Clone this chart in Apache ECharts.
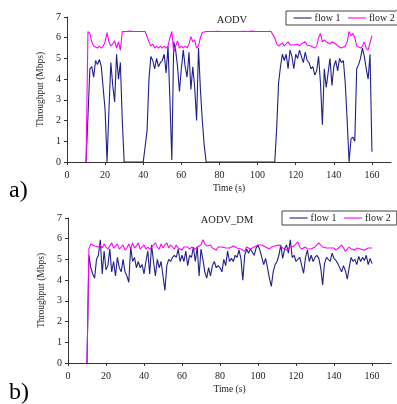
<!DOCTYPE html>
<html>
<head>
<meta charset="utf-8">
<script src="https://cdn.jsdelivr.net/npm/echarts@6/dist/echarts.min.js"></script>
<style>
html,body{margin:0;padding:0;background:#fff;}
#chart{width:397px;height:404px;}
</style>
</head>
<body>
<div id="chart"></div>
<script>
// time stamps (s), one sample per second from 10 to 160
var times = [];
for (var t = 10; t <= 160; t++) times.push(t);

var xTicks = [0, 20, 40, 60, 80, 100, 120, 140, 160];
var yTicks = [0, 1, 2, 3, 4, 5, 6, 7];
var seriesNames = ['flow 1', 'flow 2'];
var panelTitles = ['AODV', 'AODV_DM'];
var panelLabels = ['a)', 'b)'];

// (a) AODV
var aodvFlow1 = [
  0, 2.2, 4.5, 4.6, 4.1, 4.9, 4.7, 4.95, 4.6, 4.6,
  2.5, 0, 2.5, 4.8, 3.7, 2.9, 5.2, 4.0, 4.8, 2.0,
  0, 0, 0, 0, 0, 0, 0, 0, 0, 0,
  0, 0, 1.5, 4.0, 5.1, 4.9, 4.5, 5.0, 4.6, 4.8,
  4.9, 5.2, 4.3, 5.6, 3.0, 0.1, 5.8, 5.4, 4.6, 3.4,
  4.5, 5.4, 4.6, 4.1, 5.3, 3.5, 4.6, 3.6, 2.0, 5.5,
  3.5, 2.0, 0.8, 0, 0, 0, 0, 0, 0, 0,
  0, 0, 0, 0, 0, 0, 0, 0, 0, 0,
  0, 0, 0, 0, 0, 0, 0, 0, 0, 0,
  0, 0, 0, 0, 0, 0, 0, 0, 0, 0,
  1.6, 3.8, 4.6, 5.2, 4.9, 5.2, 4.5, 5.4, 5.1, 4.5,
  5.2, 5.0, 5.4, 5.1, 4.8, 5.3, 4.9, 4.8, 4.5, 4.6,
  4.2, 4.4, 5.1, 3.8, 1.8, 4.5, 3.6, 4.3, 5.0, 3.7,
  4.6, 4.9, 4.4, 5.0, 4.8, 4.9, 3.8, 2.0, 0, 1.1,
  1.2, 1.0, 4.5, 4.7, 5.0, 5.5, 5.1, 4.5, 4.0, 5.2,
  0.5
];
var aodvFlow2 = [
  0, 6.3, 6.2, 5.8, 5.6, 5.6, 5.5, 5.6, 5.5, 5.6,
  5.8, 6.25, 5.8, 5.6, 5.7, 5.85, 5.5, 5.8, 5.4, 6.3,
  6.28, 6.3, 6.3, 6.32, 6.3, 6.3, 6.31, 6.3, 6.32, 6.3,
  6.33, 6.3, 6.3, 5.8, 5.6, 5.7, 5.5, 5.6, 5.5, 5.6,
  5.5, 5.6, 5.5, 5.6, 6.0, 6.3, 5.3, 5.6, 5.85, 5.5,
  5.6, 5.5, 5.6, 5.5, 5.7, 6.05, 5.8, 5.9, 5.5, 5.6,
  6.0, 6.25, 6.3, 6.3, 6.31, 6.3, 6.29, 6.3, 6.3, 6.31,
  6.3, 6.3, 6.32, 6.3, 6.3, 6.3, 6.31, 6.3, 6.3, 6.3,
  6.32, 6.3, 6.3, 6.31, 6.3, 6.3, 6.3, 6.32, 6.3, 6.3,
  6.31, 6.3, 6.3, 6.3, 6.32, 6.3, 6.3, 6.31, 6.3, 6.0,
  5.7, 5.6, 5.6, 5.75, 5.6, 5.6, 5.8, 5.65, 5.7, 5.65,
  5.6, 5.7, 5.6, 5.7, 5.7, 5.8, 5.65, 5.7, 5.6, 5.6,
  5.5, 5.6, 6.0, 6.2, 5.8, 5.9, 5.8, 5.75, 5.7, 5.8,
  5.75, 5.7, 5.6, 5.65, 5.5, 5.5, 5.6, 5.8, 6.3, 6.1,
  6.2, 6.0, 5.6, 5.6, 5.5, 5.6, 5.8, 5.5, 5.4, 5.4,
  6.1
];

// (b) AODV_DM
var dmFlow1 = [
  0, 5.2, 4.6, 4.3, 4.1, 5.0, 5.2, 5.95, 4.3, 5.4,
  4.5, 4.7, 5.5, 4.4, 4.9, 4.2, 5.1, 4.6, 4.4, 5.0,
  4.4, 4.2, 3.9, 5.6, 4.9, 5.1, 4.6, 4.9, 4.6, 4.75,
  4.3, 4.9, 5.4, 4.3, 5.7, 4.9, 4.2, 5.0, 4.6, 4.9,
  4.2, 3.5, 4.7, 5.0, 4.9, 5.1, 5.2, 5.1, 5.5, 4.9,
  5.2, 4.9, 5.4, 4.7, 5.2, 5.1, 5.6, 4.9, 5.6, 4.2,
  5.5, 5.0, 4.4, 4.1, 4.6, 4.2, 4.7, 4.9, 4.6, 4.7,
  4.6, 4.4, 5.0, 4.7, 5.4, 4.9, 5.05, 4.9, 5.2, 5.1,
  5.45, 5.05, 4.0, 5.2, 5.5, 5.3, 5.5, 5.45, 5.2, 5.55,
  5.7, 5.45, 5.5, 4.75, 5.05, 4.6, 4.1, 3.7, 4.4, 4.75,
  4.9, 5.2, 5.7, 5.05, 5.5, 5.7, 5.3, 5.95, 5.1, 5.2,
  4.9, 4.9, 5.1, 4.7, 4.33, 5.1, 5.45, 4.9, 5.2, 4.9,
  5.1, 5.2, 5.05, 4.6, 3.77, 4.8, 5.1, 5.05, 4.9, 5.3,
  5.05, 4.95, 4.8, 4.85, 4.4, 4.7, 4.45, 4.05, 4.6, 5.1,
  4.9, 5.0, 4.75, 5.15, 4.9, 5.1, 4.95, 5.2, 4.75, 5.05,
  4.8
];
var dmFlow2 = [
  0, 5.5, 5.75, 5.8, 5.65, 5.7, 5.6, 5.7, 5.55, 5.75,
  5.6, 5.5, 5.65, 5.8, 5.55, 5.6, 5.75, 5.5, 5.6, 5.7,
  5.45, 5.55, 5.75, 5.5, 5.8, 5.55, 5.65, 5.8, 5.5, 5.6,
  5.7, 5.5, 5.6, 5.5, 5.6, 5.65, 5.8, 5.6, 5.5, 5.75,
  5.55, 5.7, 5.8, 5.55, 5.7, 5.6, 5.5, 5.7, 5.55, 5.6,
  5.45, 5.6, 5.55, 5.6, 5.5, 5.6, 5.55, 5.5, 5.6, 5.65,
  5.7, 5.95, 5.75, 5.65, 5.6, 5.7, 5.55, 5.6, 5.45, 5.6,
  5.65, 5.6, 5.65, 5.55, 5.5, 5.55, 5.6, 5.65, 5.6, 5.55,
  5.6, 5.5, 5.55, 5.4, 5.6, 5.55, 5.5, 5.55, 5.6, 5.55,
  5.7, 5.65, 5.7, 5.75, 5.6, 5.55, 5.5, 5.6, 5.55, 5.65,
  5.6, 5.7, 5.75, 5.55, 5.6, 5.45, 5.4, 5.6, 5.55, 5.65,
  5.75, 5.85, 5.6, 5.5, 5.45, 5.6, 5.5, 5.55, 5.5, 5.55,
  5.6, 5.7, 5.8, 5.85, 5.6, 5.55, 5.55, 5.5, 5.55, 5.5,
  5.55, 5.45, 5.5, 5.6, 5.7, 5.55, 5.4, 5.5, 5.6, 5.5,
  5.55, 5.45, 5.55, 5.5, 5.5, 5.5, 5.45, 5.5, 5.55, 5.5,
  5.55
];

function pairs(vals) { return times.map(function (t, i) { return [t, vals[i]]; }); }

var FONT = '"Liberation Serif", "Times New Roman", serif';
var TXT = '#222';
var C1 = '#1f1f8c';
var C2 = '#ff00ff';

function xAxisCfg(gi) {
  return {
    gridIndex: gi, type: 'value', min: 0, max: 170, interval: 20, z: 5,
    name: 'Time (s)', nameLocation: 'middle', nameGap: 21,
    nameTextStyle: { fontFamily: FONT, fontSize: 9.5, color: TXT },
    axisLine: { lineStyle: { color: '#333', width: 1 } },
    axisTick: { show: true, inside: false, length: 3, customValues: xTicks, lineStyle: { color: '#333' } },
    axisLabel: { customValues: xTicks, margin: 8, fontFamily: FONT, fontSize: 10, color: TXT },
    splitLine: { show: false }
  };
}
function yAxisCfg(gi) {
  return {
    gridIndex: gi, type: 'value', min: 0, max: 7, interval: 1, z: 5,
    name: 'Throughput (Mbps)', nameLocation: 'middle', nameGap: 15,
    nameTextStyle: { fontFamily: FONT, fontSize: 9.5, color: TXT },
    axisLine: { show: true, lineStyle: { color: '#333', width: 1 } },
    axisTick: { show: true, inside: false, length: 3, lineStyle: { color: '#333' } },
    axisLabel: { customValues: yTicks, margin: 6, fontFamily: FONT, fontSize: 10, color: TXT },
    splitLine: { show: false }
  };
}
function lineSeries(name, gi, vals, color) {
  return {
    name: name, type: 'line', xAxisIndex: gi, yAxisIndex: gi,
    data: pairs(vals), symbol: 'none', animation: false,
    lineStyle: { color: color, width: 1.1 }, itemStyle: { color: color }
  };
}
function legendCfg(left, top) {
  return {
    data: seriesNames, left: left, top: top, width: 140, orient: 'horizontal',
    padding: [2, 6, 2, 7], itemGap: 7, itemWidth: 18, itemHeight: 8,
    borderColor: '#444', borderWidth: 1, backgroundColor: '#fff',
    itemStyle: { opacity: 0 },
    lineStyle: { width: 1.1 },
    textStyle: { fontFamily: FONT, fontSize: 10, color: TXT, padding: [0, 0, 0, -2] },
    selectedMode: false
  };
}

var chart = echarts.init(document.getElementById('chart'), null, { renderer: 'canvas' });
chart.setOption({
  animation: false,
  backgroundColor: '#fff',
  title: [
    { text: panelTitles[0], left: 232, top: 15, textAlign: 'center', padding: 0,
      textStyle: { fontFamily: FONT, fontSize: 10.5, fontWeight: 'normal', color: TXT } },
    { text: panelTitles[1], left: 227, top: 215, textAlign: 'center', padding: 0,
      textStyle: { fontFamily: FONT, fontSize: 10.5, fontWeight: 'normal', color: TXT } },
    { text: panelLabels[0], left: 9, top: 179, padding: 0,
      textStyle: { fontFamily: FONT, fontSize: 24, fontWeight: 'normal', color: '#000' } },
    { text: panelLabels[1], left: 9, top: 381, padding: 0,
      textStyle: { fontFamily: FONT, fontSize: 24, fontWeight: 'normal', color: '#000' } }
  ],
  legend: [legendCfg(286, 11), legendCfg(282, 211)],
  grid: [
    { left: 67, top: 17, width: 324, height: 145, containLabel: false },
    { left: 68, top: 218, width: 323, height: 145, containLabel: false }
  ],
  xAxis: [xAxisCfg(0), xAxisCfg(1)],
  yAxis: [yAxisCfg(0), yAxisCfg(1)],
  series: [
    lineSeries(seriesNames[0], 0, aodvFlow1, C1),
    lineSeries(seriesNames[1], 0, aodvFlow2, C2),
    lineSeries(seriesNames[0], 1, dmFlow1, C1),
    lineSeries(seriesNames[1], 1, dmFlow2, C2)
  ]
});
</script>
</body>
</html>
